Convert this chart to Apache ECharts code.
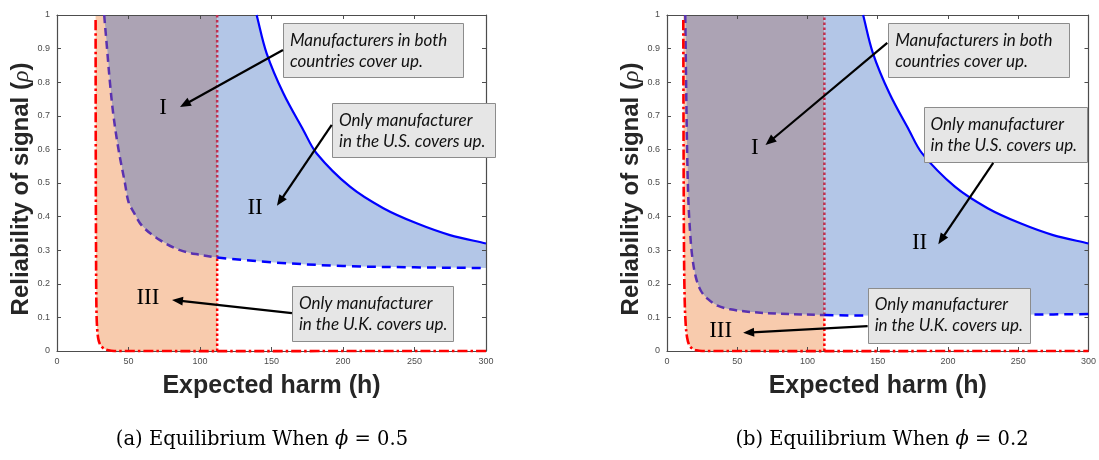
<!DOCTYPE html>
<html><head><meta charset="utf-8">
<script src="https://cdn.jsdelivr.net/npm/echarts@6/dist/echarts.min.js"></script>
<style>html,body{margin:0;padding:0;background:#fff}#c{width:1099px;height:460px}</style>
</head><body><div id="c"></div>
<script>
// ---------- data ----------
const xTicks = [0, 50, 100, 150, 200, 250, 300];
const yTicks = [0, 0.1, 0.2, 0.3, 0.4, 0.5, 0.6, 0.7, 0.8, 0.9, 1];
const threshold = 112; // dotted vertical line (h)

// panel (a) phi = 0.5
const ukBoundaryA = [[27,0.985],[27.1,0.6],[27.3,0.3],[27.6,0.12],[28.2,0.06],[29.2,0.03],[30.8,0.015],[33,0.007],[36,0.002],[40,0],[300,0]];
const bothBoundaryA = [[33,1],[35,0.9],[37,0.8],[39.5,0.7],[43,0.6],[47.5,0.5],[50,0.444],[54,0.41],[60,0.37],[72,0.33],[86,0.30],[100,0.286],[112,0.278]];
const usLowerA = [[112,0.278],[150,0.264],[200,0.253],[250,0.249],[300,0.247]];
// panel (b) phi = 0.2
const ukBoundaryB = [[11.6,0.985],[11.8,0.6],[12.1,0.3],[12.6,0.15],[13.3,0.08],[14.3,0.04],[15.8,0.018],[18,0.007],[21,0.002],[25,0],[300,0]];
const bothBoundaryB = [[13,1],[13.6,0.8],[14.3,0.6],[15.2,0.45],[16.5,0.35],[18,0.28],[20.5,0.22],[24,0.18],[29,0.155],[36,0.135],[45,0.124],[60,0.116],[80,0.111],[112,0.107]];
const usLowerB = [[112,0.107],[150,0.105],[200,0.106],[250,0.108],[300,0.11]];
// upper U.S. boundary (same in both panels)
const usUpper = [[139.6,1],[146.6,0.886],[158.3,0.767],[172.2,0.658],[181.6,0.588],[204.9,0.489],[228.2,0.425],[251.5,0.38],[274.8,0.345],[300,0.32]];

const captions = ['(a) Equilibrium When ', '(b) Equilibrium When '];
const phiValues = ['0.5', '0.2'];
const boxTexts = [
  'Manufacturers in both\ncountries cover up.',
  'Only manufacturer\nin the U.S. covers up.',
  'Only manufacturer\nin the U.K. covers up.'
];
const regionNames = ['I', 'II', 'III'];

// ---------- annotation anchors (data coords) ----------
const annotations = [
  { boxes: [[158,0.976,180,54],[192.3,0.738,163,54],[164.3,0.193,161,55]],
    arrows: [[[158,0.896],[86,0.726]],[[192.1,0.673],[153.8,0.432]],[[164.3,0.113],[80.4,0.152]]],
    labels: [[74.1,0.723],[138.5,0.426],[63.6,0.158]] },
  { boxes: [[157.4,0.976,181,54],[182.6,0.726,163,55],[142.8,0.1875,162,55]],
    arrows: [[[156.8,0.917],[70.1,0.613]],[[232.2,0.56],[193.1,0.318]],[[142.8,0.074],[54.2,0.054]]],
    labels: [[62.6,0.604],[179.8,0.321],[38.2,0.0595]] }
];
const captionCenters = [262, 882];

const C = {orange:'#F8CBAD', gray:'#ACA3B4', blue:'#B3C6E7', red:'#FF0000', purple:'#5A32B0', bl:'#0000FF', dotUp:'#C0304F', axis:'#4D4D4D'};

const chart = echarts.init(document.getElementById('c'), null, {renderer:'canvas'});

const grids = [
  {left:57, width:429, top:15, height:336},
  {left:667, width:430, top:15, height:336}
];

const xAxes = [], yAxes = [];
grids.forEach((g, i) => {
  const axLine = {show:true, onZero:false, lineStyle:{color:C.axis, width:1.2}};
  const tick = {inside:true, length:4, lineStyle:{color:C.axis}};
  const lab = {fontSize:9, color:'#4D4D4D', fontFamily:'Liberation Sans'};
  xAxes.push({type:'value', gridIndex:i, min:0, max:300, interval:50, position:'bottom', z:2,
    axisLine:axLine, axisTick:tick, splitLine:{show:false},
    axisLabel:Object.assign({margin:6}, lab),
    name:'Expected harm (h)', nameLocation:'middle', nameGap:23,
    nameTextStyle:{fontSize:25, fontWeight:'bold', color:'#262626', fontFamily:'Liberation Sans'}});
  xAxes.push({type:'value', gridIndex:i, min:0, max:300, interval:50, position:'top', z:2,
    axisLine:axLine, axisTick:tick, splitLine:{show:false}, axisLabel:{show:false}});
  yAxes.push({type:'value', gridIndex:i, min:0, max:1, interval:0.1, position:'left', z:2,
    axisLine:axLine, axisTick:tick, splitLine:{show:false},
    axisLabel:Object.assign({margin:7, formatter:v => (v===0||v===1) ? String(v) : v.toFixed(1)}, lab),
    name:'{a|Reliability of signal (}{b|ρ}{a|)}', nameLocation:'middle', nameGap:21,
    nameTextStyle:{padding:[0,12,0,0], rich:{
      a:{fontSize:24, fontWeight:'bold', color:'#262626', fontFamily:'Liberation Sans'},
      b:{fontSize:24, fontStyle:'italic', color:'#262626', fontFamily:'Liberation Serif'}}}});
  yAxes.push({type:'value', gridIndex:i, min:0, max:1, interval:0.1, position:'right', z:2,
    axisLine:axLine, axisTick:tick, splitLine:{show:false}, axisLabel:{show:false}});
});

// smooth path through pixel points (rendering only; no new data values)
function segPath(pix, start, smooth){
  let d = (start ? 'M' : 'L') + pix[0][0] + ',' + pix[0][1];
  if (!smooth) { for (let i=1;i<pix.length;i++) d += 'L' + pix[i][0] + ',' + pix[i][1]; return d; }
  const unit = (a, b) => { const dx=b[0]-a[0], dy=b[1]-a[1], l=Math.hypot(dx,dy)||1; return [dx/l, dy/l]; };
  const k = 0.34;
  for (let i=0;i<pix.length-1;i++){
    const p0 = pix[Math.max(i-1,0)], p1 = pix[i], p2 = pix[i+1], p3 = pix[Math.min(i+2,pix.length-1)];
    const len = Math.hypot(p2[0]-p1[0], p2[1]-p1[1]);
    const t1 = unit(p0, p2), t2 = unit(p1, p3);
    const c1 = [p1[0]+t1[0]*len*k, p1[1]+t1[1]*len*k];
    const c2 = [p2[0]-t2[0]*len*k, p2[1]-t2[1]*len*k];
    d += 'C' + c1[0] + ',' + c1[1] + ' ' + c2[0] + ',' + c2[1] + ' ' + p2[0] + ',' + p2[1];
  }
  return d;
}
function buildPath(pieces, api, close){
  let d = '';
  pieces.forEach((pc, i) => { d += segPath(pc.pts.map(p => api.coord(p)), i===0, pc.smooth); });
  return d + (close ? 'Z' : '');
}
function region(gi, pieces, color){
  return {type:'custom', coordinateSystem:'cartesian2d', xAxisIndex:gi*2, yAxisIndex:gi*2,
    silent:true, z:1, animation:false, data:[[0,0]],
    renderItem:(p, api) => ({type:'path', shape:{pathData:buildPath(pieces, api, true)}, style:{fill:color, stroke:null}})};
}
function curve(gi, data, smooth, color, width, dash){
  return {type:'custom', coordinateSystem:'cartesian2d', xAxisIndex:gi*2, yAxisIndex:gi*2,
    silent:true, z:3, animation:false, data:[[0,0]],
    renderItem:(p, api) => ({type:'path', shape:{pathData:buildPath([{pts:data, smooth:smooth}], api, false)},
      style:{fill:'none', stroke:color, lineWidth:width, lineDash:dash, lineCap:'butt', lineJoin:'round'}})};
}

const panels = [
  {uk:ukBoundaryA, both:bothBoundaryA, low:usLowerA},
  {uk:ukBoundaryB, both:bothBoundaryB, low:usLowerB}
];
const series = [];
panels.forEach((P, gi) => {
  const ukCurve = P.uk.filter(p => p[0] < 300);
  const cut = P.low[0][1];
  // region III (orange)
  series.push(region(gi, [
    {pts:[[P.uk[0][0],1]], smooth:false},
    {pts:ukCurve, smooth:true},
    {pts:[[threshold,0],[threshold,cut]], smooth:false},
    {pts:P.both.slice().reverse(), smooth:true}], C.orange));
  // region I (gray)
  series.push(region(gi, [
    {pts:P.both, smooth:true},
    {pts:[[threshold,1]], smooth:false}], C.gray));
  // region II (blue)
  series.push(region(gi, [
    {pts:[[threshold,1]], smooth:false},
    {pts:usUpper, smooth:true},
    {pts:P.low.slice().reverse(), smooth:true}], C.blue));
  // boundaries
  series.push(curve(gi, [[threshold,0],[threshold,cut]], false, C.red, 2.5, [2.5,2.5]));
  series.push(curve(gi, [[threshold,cut],[threshold,1]], false, C.dotUp, 2.5, [2.5,2.5]));
  series.push(curve(gi, P.both, true, C.purple, 2.5, [8,5]));
  series.push(curve(gi, P.low, true, C.bl, 2.5, [9,6]));
  series.push(curve(gi, usUpper, true, C.bl, 2.2, null));
  series.push(curve(gi, P.uk, true, C.red, 2.6, [10,3,2.5,3]));
});

chart.setOption({
  animation:false,
  backgroundColor:'#fff',
  grid:grids,
  xAxis:xAxes,
  yAxis:yAxes,
  series:series
});

// annotations positioned through the chart's own scales
const graphics = [];
annotations.forEach((A, gi) => {
  const px = p => chart.convertToPixel({gridIndex:gi}, p);
  A.boxes.forEach((b, k) => {
    const tl = px([b[0], b[1]]);
    graphics.push({type:'rect', z:20, shape:{x:Math.round(tl[0])+0.5, y:Math.round(tl[1])+0.5, width:b[2], height:b[3]},
      style:{fill:'#E6E6E6', stroke:'#8C8C8C', lineWidth:1}});
    graphics.push({type:'text', z:21, x:tl[0]+7, y:tl[1]+6.5,
      style:{text:boxTexts[k], font:'italic 17px Lato', fill:'#111', lineHeight:21, verticalAlign:'top', align:'left'}});
  });
  A.arrows.forEach(a => {
    const s = px(a[0]), e = px(a[1]);
    const dx = e[0]-s[0], dy = e[1]-s[1], L = Math.hypot(dx, dy), ux = dx/L, uy = dy/L;
    const hl = 11, hw = 4.5;
    const bx = e[0]-ux*hl, by = e[1]-uy*hl;
    graphics.push({type:'line', z:22, shape:{x1:s[0], y1:s[1], x2:bx+ux*2, y2:by+uy*2}, style:{stroke:'#000', lineWidth:2.2}});
    graphics.push({type:'polygon', z:22, shape:{points:[[e[0],e[1]],[bx-uy*hw, by+ux*hw],[bx+uy*hw, by-ux*hw]]}, style:{fill:'#000'}});
  });
  A.labels.forEach((l, k) => {
    const p = px(l);
    graphics.push({type:'text', z:22, x:p[0], y:p[1],
      style:{text:regionNames[k], font:'23px "Liberation Serif"', fill:'#000', align:'center', verticalAlign:'middle'}});
  });
  graphics.push({type:'text', z:22, x:captionCenters[gi], y:440,
    style:{text:'{n|' + captions[gi] + '}{i|ϕ}{n| = ' + phiValues[gi] + '}', align:'center', verticalAlign:'middle',
      rich:{n:{font:'19.5px "DejaVu Serif"', fill:'#000'}, i:{font:'italic 19.5px "DejaVu Serif"', fill:'#000'}}}});
});
chart.setOption({graphic:graphics});
</script>
</body></html>
